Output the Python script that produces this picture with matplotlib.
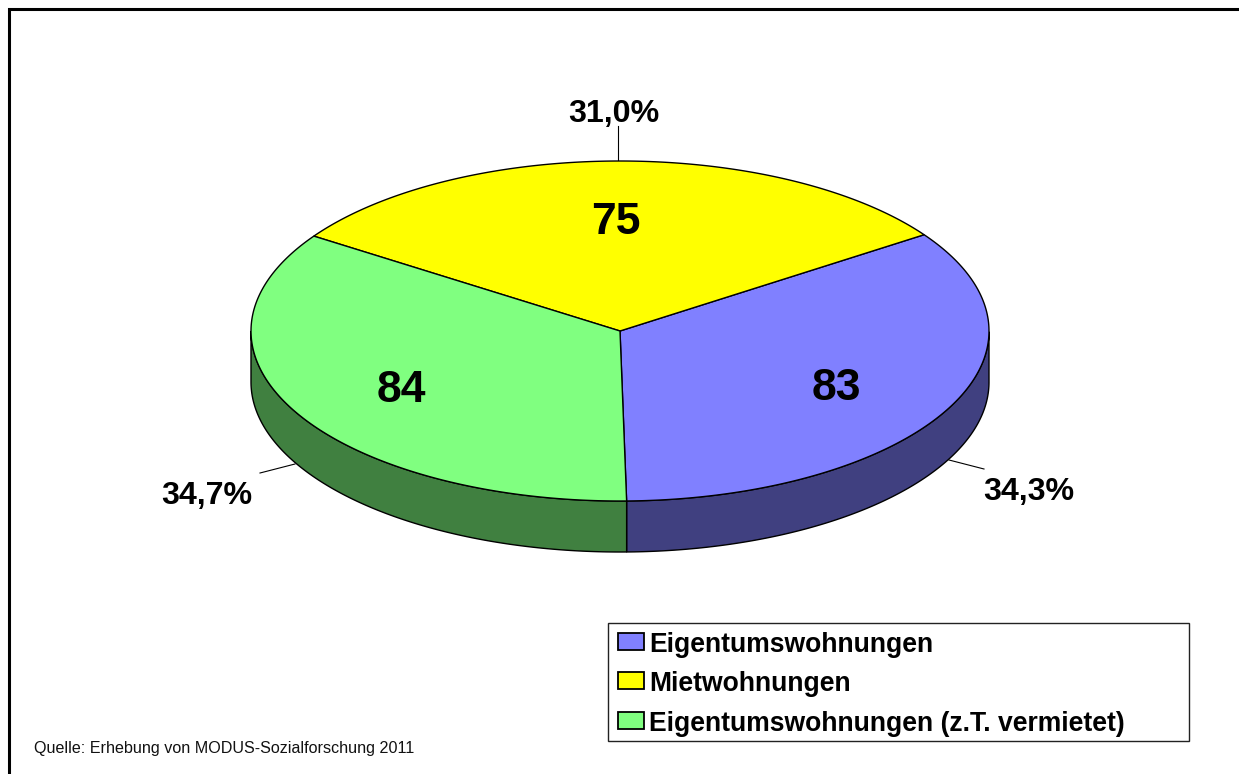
import matplotlib
matplotlib.use("Agg")
import matplotlib.pyplot as plt
import numpy as np
from matplotlib.patches import Polygon, Rectangle

plt.rcParams['font.family'] = ['Liberation Sans', 'DejaVu Sans']

# Donnees
labels = ["Eigentumswohnungen", "Mietwohnungen", "Eigentumswohnungen (z.T. vermietet)"]
values = [83, 75, 84]
percents = ["34,3%", "31,0%", "34,7%"]
top_colors = ["#8080FF", "#FFFF00", "#80FF80"]
side_colors = ["#404080", "#808000", "#408040"]
source = "Quelle: Erhebung von MODUS-Sozialforschung 2011"

# Geometrie du camembert (en pixels)
cx, cy = 620, 331
rx, ry = 369, 170
depth = 51
start = 34.5  # angle de la limite bleu/jaune

W, H = 1239, 774
fig = plt.figure(figsize=(W/100, H/100), dpi=100)
ax = fig.add_axes([0, 0, 1, 1])
ax.set_xlim(0, W)
ax.set_ylim(H, 0)
ax.axis("off")

# Cadre
ax.plot([9, 9, W+5], [H+5, 9, 9], color="black", lw=2.2, solid_capstyle="butt", solid_joinstyle="miter")


def ellipse(t, dy=0):
    t = np.radians(t)
    return np.column_stack([cx + rx*np.cos(t), cy - ry*np.sin(t) + dy])


# Angles des parts : le bleu part de start en sens horaire
fractions = np.array(values)/sum(values)
angles = 360*fractions
limits = {}
a = start
for i in [0, 2, 1]:
    limits[i] = (a - angles[i], a)
    a = a - angles[i]

# Flanc visible (angles entre 180 et 360)
for i in range(3):
    a0, a1 = limits[i]
    vis = np.linspace(a0, a1, 200)
    vis = vis[np.sin(np.radians(vis)) <= 0.001]
    if len(vis) == 0:
        continue
    pts = np.vstack([ellipse(vis), ellipse(vis[::-1], depth)])
    ax.add_patch(Polygon(pts, closed=True, fc=side_colors[i], ec="black", lw=1.0, zorder=2))

# Dessus
for i in range(3):
    a0, a1 = limits[i]
    t = np.linspace(a0, a1, 200)
    pts = np.vstack([[cx, cy], ellipse(t)])
    ax.add_patch(Polygon(pts, closed=True, fc=top_colors[i], ec="black", lw=1.0, zorder=3))

# Valeurs sur les parts
val_pos = [(836, 388), (616, 222), (401, 390)]
for v, (x, y) in zip(values, val_pos):
    ax.text(x, y, str(v), fontsize=32, fontweight="bold", ha="center", va="center", zorder=5)

# Pourcentages et traits de rappel
pct_pos = [(1029, 492), (614, 114), (207, 496)]
lead = [((949, 460), (984, 469)), ((618, 161), (618, 126)), ((295, 464), (260, 473))]
for p, (x, y), (l0, l1) in zip(percents, pct_pos, lead):
    ax.text(x, y, p, fontsize=23.2, fontweight="bold", ha="center", va="center", zorder=5)
    ax.plot([l0[0], l1[0]], [l0[1], l1[1]], color="black", lw=0.8, zorder=1)

# Legende
ax.add_patch(Rectangle((608, 623), 581, 118, fc="white", ec="#222222", lw=1.0, zorder=4))
leg_y = [645, 684, 724]
for lab, col, y in zip(labels, top_colors, leg_y):
    ax.add_patch(Rectangle((618, y-12), 26, 17, fc=col, ec="black", lw=1.3, zorder=5))
    ax.text(649, y, lab, fontsize=19.1, fontweight="bold", ha="left", va="center", zorder=5)

# Source
ax.text(34, 749, source, fontsize=11.6, ha="left", va="center", color="#111111")

fig.savefig("out.png", dpi=100)
